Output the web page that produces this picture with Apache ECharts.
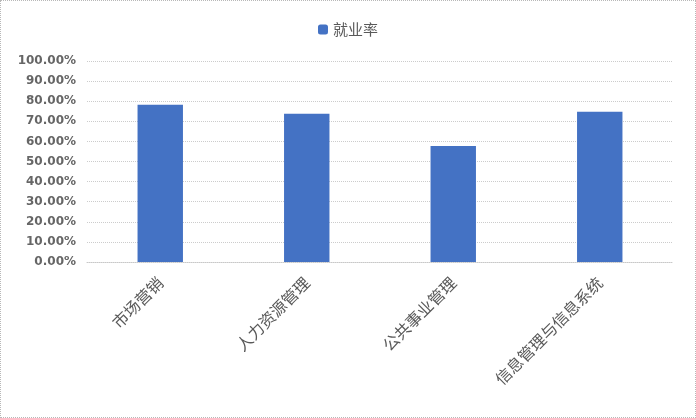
<!DOCTYPE html>
<html>
<head>
<meta charset="utf-8">
<style>
  html, body { margin: 0; padding: 0; background: #fff; }
  #chart { width: 696px; height: 418px; box-sizing: border-box; border: 1px dotted #b8b8b8; }
</style>
<script src="https://cdn.jsdelivr.net/npm/echarts@6/dist/echarts.min.js"></script>
</head>
<body>
<div id="chart"></div>
<script>
// 专业
const majors = ['市场营销', '人力资源管理', '公共事业管理', '信息管理与信息系统']
// 就业率（小数）
const rates = [0.782, 0.738, 0.577, 0.748]
const seriesName = '就业率'

const myEchart = echarts.init(document.querySelector('#chart'))
myEchart.setOption({
  animation: false,
  textStyle: {
    fontFamily: '"Noto Sans CJK SC", sans-serif',
  },
  legend: {
    top: 16,
    left: 'center',
    itemWidth: 10,
    itemHeight: 10,
    itemGap: 6,
    textStyle: {
      fontSize: 15,
      color: '#595959',
    },
    data: [seriesName],
  },
  grid: {
    left: 86,
    right: 22,
    top: 60,
    bottom: 155,
  },
  xAxis: {
    type: 'category',
    data: majors,
    axisLine: {
      lineStyle: {
        color: '#c8c8c8',
        type: 'dotted',
      },
    },
    axisTick: { show: false },
    axisLabel: {
      rotate: 45,
      fontSize: 16,
      color: '#595959',
      margin: 18,
    },
  },
  yAxis: {
    type: 'value',
    min: 0,
    max: 1,
    interval: 0.1,
    axisLine: { show: false },
    axisTick: { show: false },
    splitLine: {
      lineStyle: {
        color: '#cccccc',
        type: 'dotted',
      },
    },
    axisLabel: {
      fontFamily: '"DejaVu Sans"',
      fontSize: 12,
      fontWeight: 'bold',
      color: '#666666',
      margin: 11,
      formatter: (v) => (v * 100).toFixed(2) + '%',
    },
  },
  series: [
    {
      name: seriesName,
      type: 'bar',
      data: rates,
      barWidth: '31%',
      itemStyle: {
        color: '#4472C4',
      },
    },
  ],
})
</script>
</body>
</html>
